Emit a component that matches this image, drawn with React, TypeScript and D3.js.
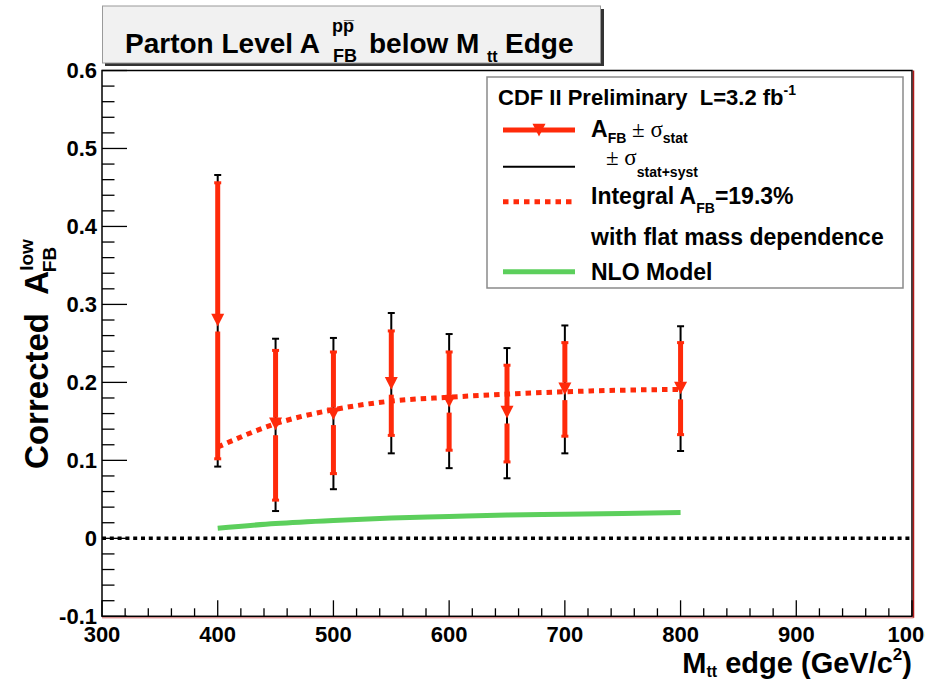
import React from 'react';
import * as d3 from 'd3';

const massEdges = [400, 450, 500, 550, 600, 650, 700, 800];
const afbCentral = [0.28, 0.147, 0.16, 0.199, 0.176, 0.162, 0.192, 0.193];
const statUpper = [0.456, 0.241, 0.239, 0.266, 0.239, 0.222, 0.251, 0.251];
const statLower = [0.102, 0.049, 0.083, 0.132, 0.113, 0.098, 0.131, 0.133];
const systUpper = [0.466, 0.256, 0.257, 0.289, 0.262, 0.244, 0.273, 0.272];
const systLower = [0.092, 0.035, 0.063, 0.109, 0.09, 0.077, 0.109, 0.112];

const curveMass = [400, 450, 500, 550, 600, 650, 700, 750, 800];
const flatAfb = [0.117, 0.147, 0.165, 0.176, 0.181, 0.185, 0.188, 0.19, 0.191];
const nloAfb = [0.013, 0.019, 0.023, 0.026, 0.028, 0.03, 0.031, 0.032, 0.033];

const xTickValues = [300, 400, 500, 600, 700, 800, 900, 1000];
const xTickLabels = ['300', '400', '500', '600', '700', '800', '900', '1000'];
const yTickValues = [-0.1, 0, 0.1, 0.2, 0.3, 0.4, 0.5, 0.6];
const yTickLabels = ['-0.1', '0', '0.1', '0.2', '0.3', '0.4', '0.5', '0.6'];

const FONT = "'Liberation Sans', Arial, Helvetica, sans-serif";
const SERIF = "'Liberation Serif', 'DejaVu Serif', serif";
const RED = '#ff2a0a';
const GREEN = '#5ccf5c';

export default function App() {
  const W = 925;
  const H = 679;
  const x = d3.scaleLinear().domain([300, 1000]).range([102, 912]);
  const y = d3.scaleLinear().domain([-0.1, 0.6]).range([616.3, 70.5]);

  const xMinor = d3.range(300, 1000.001, 20);
  const yMinor = d3.range(-0.1, 0.6001, 0.02);

  const curveLine = d3
    .line<number>()
    .x((_, i) => x(curveMass[i]))
    .y((d) => y(d))
    .curve(d3.curveMonotoneX);

  const tri = (cx: number, cy: number, s = 6.5) =>
    `M${cx - s},${cy - s * 0.95}L${cx + s},${cy - s * 0.95}L${cx},${cy + s}Z`;

  const legX1 = 503;
  const legX2 = 575;
  const LF = 23;

  return (
    <div style={{ position: 'absolute', left: 0, top: 0, width: W, height: H, background: '#fff' }}>
      <svg width={W} height={H} style={{ display: 'block', overflow: 'hidden' }} fontFamily={FONT}>
        <rect x={0} y={0} width={W} height={H} fill="#fff" />

        {/* frame */}
        <rect x={x(300)} y={y(0.6)} width={x(1000) - x(300)} height={y(-0.1) - y(0.6)} fill="none" stroke="#000" strokeWidth={1.5} />
        <line x1={x(1000) + 1.5} x2={x(1000) + 1.5} y1={y(0.6)} y2={y(-0.1) + 1.5} stroke="#b01818" strokeWidth={1.5} />
        <line x1={x(300)} x2={x(1000) + 1.5} y1={y(-0.1) + 1.5} y2={y(-0.1) + 1.5} stroke="#c04040" strokeWidth={0.8} />

        {/* ticks */}
        {yMinor.map((v, i) => {
          const major = Math.abs(Math.round(v * 10) - v * 10) < 1e-6;
          return (
            <line key={'ym' + i} x1={x(300)} x2={x(300) + (major ? 25 : 12.5)} y1={y(v)} y2={y(v)} stroke="#000" strokeWidth={1.3} />
          );
        })}
        {xMinor.map((v, i) => {
          const major = Math.abs(v % 100) < 1e-6;
          return (
            <line key={'xm' + i} x1={x(v)} x2={x(v)} y1={y(-0.1)} y2={y(-0.1) - (major ? 16 : 8)} stroke="#000" strokeWidth={1.3} />
          );
        })}

        {/* tick labels */}
        {yTickValues.map((v, i) => (
          <text key={'yl' + i} x={97} y={y(v)} dy="0.36em" textAnchor="end" fontSize={22} fontWeight="bold">
            {yTickLabels[i]}
          </text>
        ))}
        {xTickValues.map((v, i) => (
          <text key={'xl' + i} x={x(v)} y={642} textAnchor="middle" fontSize={22} fontWeight="bold">
            {xTickLabels[i]}
          </text>
        ))}

        {/* zero line */}
        <line x1={x(300)} x2={x(1000)} y1={y(0)} y2={y(0)} stroke="#000" strokeWidth={3.5} strokeDasharray="4 3.8" />

        {/* NLO model */}
        <path d={curveLine(nloAfb) || ''} fill="none" stroke={GREEN} strokeWidth={5} />

        {/* flat mass dependence */}
        <path d={curveLine(flatAfb) || ''} fill="none" stroke={RED} strokeWidth={5} strokeDasharray="5.5 5" />

        {/* data points */}
        {massEdges.map((m, i) => {
          const cx = x(m);
          const cy = y(afbCentral[i]);
          return (
            <g key={'pt' + i}>
              <line x1={cx} x2={cx} y1={y(systUpper[i])} y2={y(systLower[i])} stroke="#000" strokeWidth={2} />
              <line x1={cx - 3.5} x2={cx + 3.5} y1={y(systUpper[i])} y2={y(systUpper[i])} stroke="#000" strokeWidth={2} />
              <line x1={cx - 3.5} x2={cx + 3.5} y1={y(systLower[i])} y2={y(systLower[i])} stroke="#000" strokeWidth={2} />
              <line x1={cx} x2={cx} y1={y(statUpper[i])} y2={cy - 6} stroke={RED} strokeWidth={5} />
              <line x1={cx} x2={cx} y1={cy + 11.5} y2={y(statLower[i])} stroke={RED} strokeWidth={5} />
              <line x1={cx - 3.5} x2={cx + 3.5} y1={y(statUpper[i])} y2={y(statUpper[i])} stroke={RED} strokeWidth={3} />
              <line x1={cx - 3.5} x2={cx + 3.5} y1={y(statLower[i])} y2={y(statLower[i])} stroke={RED} strokeWidth={3} />
              <path d={tri(cx, cy)} fill={RED} />
            </g>
          );
        })}

        {/* legend */}
        <rect x={487} y={77} width={416} height={211} fill="#fff" stroke="#8a8a8a" strokeWidth={1.5} />
        <text x={498} y={105} fontSize={22} fontWeight="bold">
          CDF II Preliminary{'\u00a0\u00a0'}L=3.2 fb
          <tspan fontSize={14} dy={-10}>-1</tspan>
        </text>
        <line x1={legX1} x2={legX2} y1={130} y2={130} stroke={RED} strokeWidth={5} />
        <path d={tri(539, 130)} fill={RED} />
        <text x={591} y={137} fontSize={LF} fontWeight="bold">
          A
          <tspan fontSize={14} dy={6}>FB</tspan>
          <tspan fontSize={LF} dy={-6} fontWeight="normal" fontFamily={SERIF}> ± σ</tspan>
          <tspan fontSize={14} dy={6}>stat</tspan>
        </text>
        <line x1={legX1} x2={legX2} y1={166.7} y2={166.7} stroke="#000" strokeWidth={2} />
        <text x={606} y={165} fontSize={LF} fontFamily={SERIF}>
          ± σ
          <tspan fontSize={14} dy={12} fontFamily={FONT} fontWeight="bold">stat+syst</tspan>
        </text>
        <line x1={legX1} x2={legX2} y1={201.7} y2={201.7} stroke={RED} strokeWidth={5} strokeDasharray="5.5 5" />
        <text x={591} y={204} fontSize={LF} fontWeight="bold">
          Integral A
          <tspan fontSize={14} dy={9}>FB</tspan>
          <tspan fontSize={LF} dy={-9}>=19.3%</tspan>
        </text>
        <text x={591} y={245} fontSize={LF} fontWeight="bold">
          with flat mass dependence
        </text>
        <line x1={legX1} x2={legX2} y1={271.7} y2={271.7} stroke={GREEN} strokeWidth={5} />
        <text x={591} y={280} fontSize={LF} fontWeight="bold">
          NLO Model
        </text>

        {/* title box */}
        <rect x={105} y={9} width={499} height={57} fill="#333" />
        <rect x={102.5} y={6} width={498} height={57} fill="#f1f1f1" stroke="#9a9a9a" strokeWidth={1} />
        <text x={125} y={53} fontSize={28} fontWeight="bold">Parton Level A</text>
        <text x={332} y={32} fontSize={18} fontWeight="bold">p{'p\u0305'}</text>
        <text x={333} y={62} fontSize={18} fontWeight="bold">FB</text>
        <text x={369} y={53} fontSize={28} fontWeight="bold">below M</text>
        <text x={487} y={62} fontSize={16} fontWeight="bold">tt</text>
        <text x={505} y={53} fontSize={28} fontWeight="bold">Edge</text>

        {/* axis titles */}
        <text x={912} y={673} textAnchor="end" fontSize={29} fontWeight="bold">
          M
          <tspan fontSize={16} dy={4}>tt</tspan>
          <tspan fontSize={29} dy={-4}> edge (GeV/c</tspan>
          <tspan fontSize={17} dy={-13}>2</tspan>
          <tspan fontSize={29} dy={13}>)</tspan>
        </text>
        <text transform="translate(48,354) rotate(-90)" textAnchor="middle" fontSize={33} fontWeight="bold">
          Corrected{'\u00a0\u00a0'}A
          <tspan fontSize={19} dy={-15}>low</tspan>
          <tspan fontSize={19} dx={-33} dy={23}>FB</tspan>
        </text>
      </svg>
    </div>
  );
}
